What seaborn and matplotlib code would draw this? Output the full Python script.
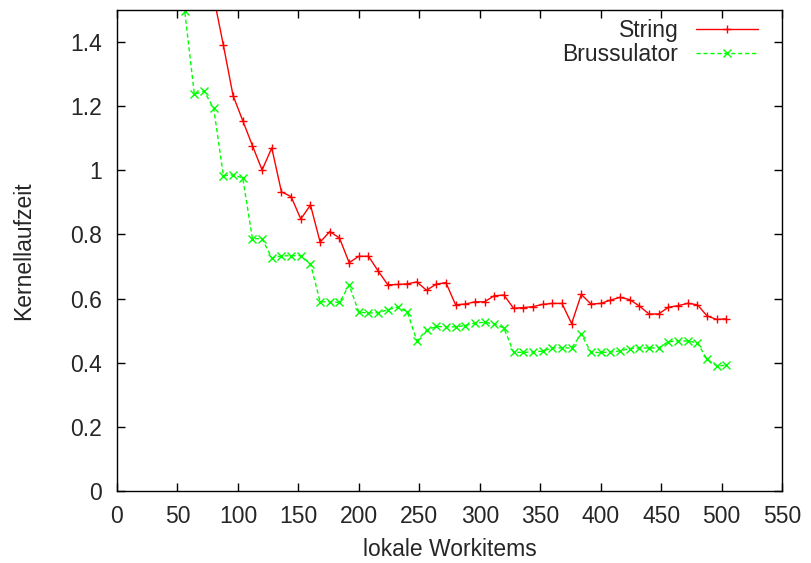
import numpy as np
import pandas as pd
import matplotlib
matplotlib.use("Agg")
import matplotlib.pyplot as plt
import seaborn as sns
from matplotlib.lines import Line2D

workitems = list(range(8, 505, 8))

string_vals = [9.5, 5.0, 3.4, 2.7, 2.2, 2.0, 1.85, 1.75, 1.65, 1.54,
               1.39, 1.233, 1.155, 1.077, 1.001, 1.07, 0.933, 0.918, 0.848, 0.892,
               0.776, 0.809, 0.789, 0.712, 0.732, 0.732, 0.686, 0.643, 0.644, 0.646,
               0.652, 0.626, 0.645, 0.650, 0.581, 0.583, 0.590, 0.590, 0.609, 0.611,
               0.570, 0.572, 0.575, 0.582, 0.585, 0.585, 0.522, 0.613, 0.583, 0.585,
               0.595, 0.604, 0.597, 0.577, 0.552, 0.552, 0.573, 0.578, 0.585, 0.581,
               0.546, 0.535, 0.537]

bruss_vals = [9.0, 4.6, 3.1, 2.4, 2.0, 1.75, 1.497, 1.237, 1.247, 1.193,
              0.983, 0.986, 0.976, 0.787, 0.787, 0.727, 0.733, 0.734, 0.734, 0.709,
              0.590, 0.590, 0.588, 0.642, 0.558, 0.555, 0.556, 0.565, 0.574, 0.559,
              0.469, 0.501, 0.513, 0.512, 0.512, 0.516, 0.524, 0.526, 0.521, 0.508,
              0.433, 0.432, 0.434, 0.436, 0.446, 0.446, 0.446, 0.490, 0.432, 0.432,
              0.433, 0.437, 0.444, 0.446, 0.446, 0.446, 0.466, 0.468, 0.468, 0.462,
              0.411, 0.390, 0.392]

series_names = ["String", "Brussulator"]
x_ticks = list(range(0, 551, 50))
y_ticks = [0, 0.2, 0.4, 0.6, 0.8, 1, 1.2, 1.4]
y_tick_labels = ["0", "0.2", "0.4", "0.6", "0.8", "1", "1.2", "1.4"]

RED = "#ff0000"
GREEN = "#00ff00"

df = pd.DataFrame({
    "x": workitems * 2,
    "y": string_vals + bruss_vals,
    "series": [series_names[0]] * len(workitems) + [series_names[1]] * len(workitems),
})

sns.set_style("ticks")
plt.rcParams["font.family"] = ["Liberation Sans", "DejaVu Sans"]
FS = 16.5
plt.rcParams["font.size"] = FS

fig = plt.figure(figsize=(8.11, 5.63), dpi=100)
ax = fig.add_axes([117 / 811, 1 - 491 / 563, (782 - 117) / 811, (491 - 10) / 563])

sns.lineplot(data=df, x="x", y="y", hue="series", style="series",
             palette={"String": RED, "Brussulator": GREEN},
             dashes={"String": "", "Brussulator": (3, 2)},
             markers={"String": "+", "Brussulator": "x"},
             markersize=6, markeredgewidth=1.0, linewidth=1.0,
             ax=ax, legend=False)

for line in ax.lines:
    line.set_markeredgecolor(line.get_color())
    line.set_markerfacecolor(line.get_color())

ax.set_xlim(0, 550)
ax.set_ylim(0, 1.5)
ax.set_xticks(x_ticks)
ax.set_yticks(y_ticks)
ax.set_yticklabels(y_tick_labels)
ax.tick_params(direction="in", length=6, width=1, top=True, right=True,
               labelsize=FS, color="black")
ax.tick_params(axis="x", pad=10)
ax.tick_params(axis="y", pad=11)
for s in ax.spines.values():
    s.set_linewidth(1.0)
    s.set_color("black")
ax.set_xlabel("lokale Workitems", fontsize=FS, labelpad=7)
ax.set_ylabel("Kernellaufzeit", fontsize=FS, labelpad=25)

handles = [Line2D([], [], color=RED, marker="+", markersize=6, linewidth=1.0),
           Line2D([], [], color=GREEN, marker="x", markersize=6, linewidth=1.0,
                  linestyle=(0, (3, 2)))]
leg = ax.legend(handles, series_names, loc="upper right", frameon=False,
                markerfirst=False, handlelength=2.7, handletextpad=0.75,
                labelspacing=0.05, fontsize=FS, borderaxespad=0.0,
                bbox_to_anchor=(0.977, 1.0))

fig.savefig("out.png", dpi=100)
